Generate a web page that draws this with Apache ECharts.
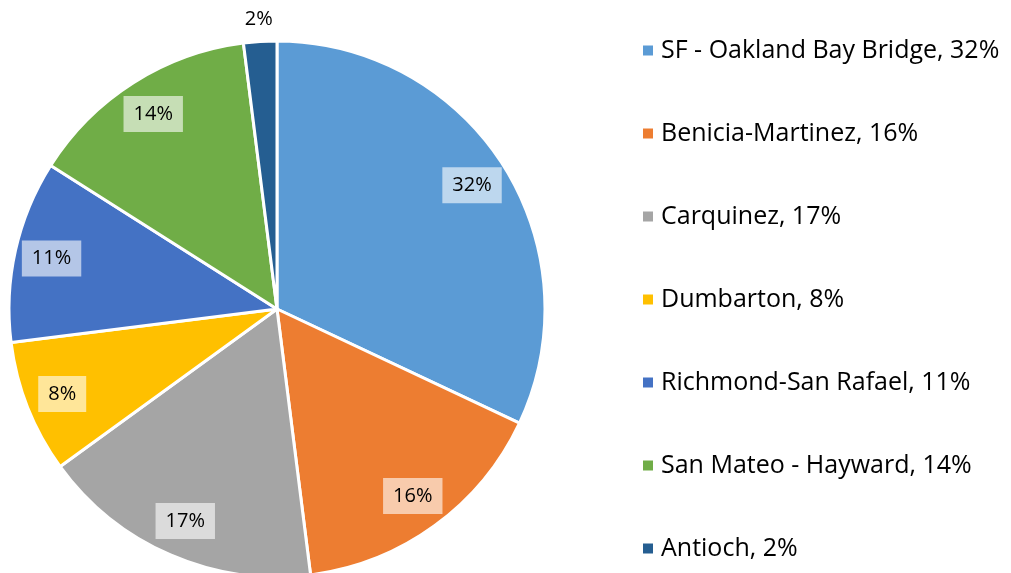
<!DOCTYPE html>
<html>
<head>
<meta charset="utf-8">
<script src="https://cdn.jsdelivr.net/npm/echarts@6/dist/echarts.min.js"></script>
<style>
  html, body { margin: 0; padding: 0; background: #fff; }
  #chart { width: 1011px; height: 573px; }
</style>
</head>
<body>
<div id="chart"></div>
<script>
const bridges = ['SF - Oakland Bay Bridge', 'Benicia-Martinez', 'Carquinez', 'Dumbarton',
  'Richmond-San Rafael', 'San Mateo - Hayward', 'Antioch'];
const shares = [32, 16, 17, 8, 11, 14, 2];
const colors = ['#5B9BD5', '#ED7D31', '#A5A5A5', '#FFC000', '#4472C4', '#70AD47', '#255E91'];

const FONT = '"Open Sans", sans-serif';
const chart = echarts.init(document.getElementById('chart'));

const slices = bridges.map((name, i) => ({
  name: name,
  value: shares[i],
  itemStyle: { color: colors[i] }
}));

// transparent rings that only carry labels: big slices get theirs near the rim,
// the tiny one sits just outside the pie
const innerLabels = bridges.map((name, i) => ({
  name: name,
  value: shares[i],
  label: { show: shares[i] >= 5 }
}));
const outerLabels = bridges.map((name, i) => ({
  name: name,
  value: shares[i],
  label: { show: shares[i] < 5 }
}));

const labelRing = {
  type: 'pie',
  center: [277, 309],
  startAngle: 90,
  clockwise: true,
  silent: true,
  legendHoverLink: false,
  itemStyle: { color: 'transparent', borderWidth: 0 },
  labelLine: { show: false }
};

const option = {
  animation: false,
  color: colors,
  legend: {
    orient: 'vertical',
    left: 636,
    top: 33,
    itemGap: 58,
    icon: 'rect',
    itemWidth: 12,
    itemHeight: 12,
    data: bridges,
    formatter: function (name) {
      return name + ', ' + shares[bridges.indexOf(name)] + '%';
    },
    textStyle: { fontFamily: FONT, fontSize: 25, color: '#000', padding: [0, 0, 0, 2] }
  },
  series: [
    {
      name: 'Bridges',
      type: 'pie',
      center: [277, 309],
      radius: 268,
      startAngle: 90,
      clockwise: true,
      silent: true,
      itemStyle: { borderColor: '#fff', borderWidth: 3 },
      label: { show: false },
      labelLine: { show: false },
      data: slices
    },
    Object.assign({}, labelRing, {
      name: 'Labels',
      radius: [188, 268],
      label: {
        position: 'inside',
        formatter: '{c}%',
        fontFamily: FONT,
        fontSize: 20,
        color: '#000',
        backgroundColor: 'rgba(255,255,255,0.6)',
        padding: [8, 10, 8, 10]
      },
      data: innerLabels
    }),
    Object.assign({}, labelRing, {
      name: 'Small labels',
      radius: [268, 306],
      label: {
        position: 'inside',
        formatter: '{c}%',
        fontFamily: FONT,
        fontSize: 20,
        color: '#000'
      },
      data: outerLabels
    })
  ]
};

chart.setOption(option);
</script>
</body>
</html>
